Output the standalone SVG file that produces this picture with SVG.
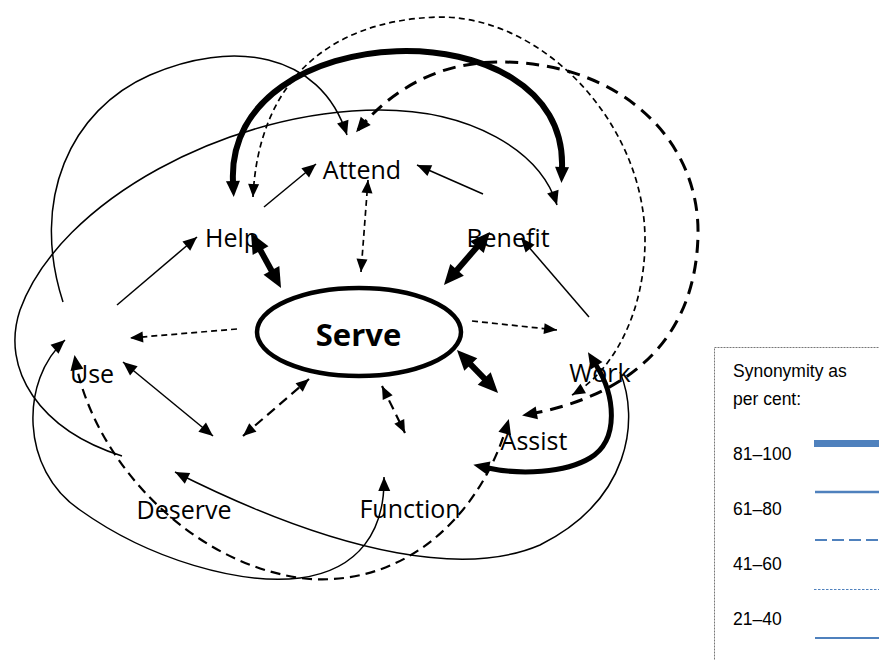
<svg xmlns="http://www.w3.org/2000/svg" width="879" height="660" viewBox="0 0 879 660">
<style>
.lbl{font-family:"Open Sans","Liberation Sans",sans-serif;font-size:25px;fill:#000;text-anchor:middle}
.srv{font-family:"Open Sans","Liberation Sans",sans-serif;font-size:31px;font-weight:700;fill:#000;text-anchor:middle}
.leg{font-family:"Liberation Sans",Arial,sans-serif;font-size:17.5px;fill:#000}
.c{fill:none;stroke:#000}
.thin{stroke-width:1.5}
.thick{stroke-width:6}
.dash{stroke-width:3;stroke-dasharray:13 8}
.mdash{stroke-width:2.2;stroke-dasharray:10 6}
.fdash{stroke-width:1.7;stroke-dasharray:6 4}
.lb{stroke:#4F81BD;fill:none}
</style>
<defs>
<marker id="at" markerUnits="userSpaceOnUse" markerWidth="14" markerHeight="12" refX="14" refY="6" orient="auto-start-reverse" overflow="visible"><path d="M0,0 L14,6 L0,12 z" fill="#000"/></marker>
<marker id="ak" markerUnits="userSpaceOnUse" markerWidth="20" markerHeight="18" refX="1" refY="9" orient="auto-start-reverse" overflow="visible"><path d="M0,0 L20,9 L0,18 z" fill="#000"/></marker>
<marker id="am" markerUnits="userSpaceOnUse" markerWidth="16" markerHeight="14" refX="1" refY="7" orient="auto-start-reverse" overflow="visible"><path d="M0,0 L16,7 L0,14 z" fill="#000"/></marker>
<marker id="ad" markerUnits="userSpaceOnUse" markerWidth="15" markerHeight="13" refX="12" refY="6.5" orient="auto-start-reverse" overflow="visible"><path d="M0,0 L15,6.5 L0,13 z" fill="#000"/></marker>
<marker id="af" markerUnits="userSpaceOnUse" markerWidth="13" markerHeight="11" refX="13" refY="5.5" orient="auto-start-reverse" overflow="visible"><path d="M0,0 L13,5.5 L0,11 z" fill="#000"/></marker>
</defs>
<rect width="879" height="660" fill="#fff"/>
<g id="connectors">
<path class="c thick" d="M260.1,249.7 L271.9,271.3" marker-start="url(#ak)" marker-end="url(#ak)"/>
<path class="c thick" d="M477.6,246.3 L456.4,270.7" marker-start="url(#ak)" marker-end="url(#ak)"/>
<path class="c thick" d="M470.1,363.8 L484.9,379.2" marker-start="url(#ak)" marker-end="url(#ak)"/>
<path class="c thick" d="M233,182 C225,15 568,5 562,168" marker-start="url(#am)" marker-end="url(#am)"/>
<path class="c" stroke-width="5" d="M596,365 C615,395 620,440 590,458 C565,473 520,475 488,468" marker-start="url(#am)" marker-end="url(#am)"/>
<path class="c thin" d="M123,362 L213,436" marker-start="url(#at)" marker-end="url(#at)"/>
<path class="c thin" d="M117,305 L197,237" marker-end="url(#at)"/>
<path class="c thin" d="M264,207 L316,164" marker-end="url(#at)"/>
<path class="c thin" d="M483,194 L417,165" marker-end="url(#at)"/>
<path class="c thin" d="M589,317 L521,238" marker-end="url(#at)"/>
<path class="c fdash" d="M368,180 L361,272" marker-start="url(#af)" marker-end="url(#af)"/>
<path class="c fdash" d="M237,329 L130,338" marker-end="url(#af)"/>
<path class="c fdash" d="M472,321 L557,330" marker-end="url(#af)"/>
<path class="c mdash" stroke-dasharray="7 5" d="M243,436 L309,379" marker-start="url(#af)" marker-end="url(#af)"/>
<path class="c mdash" stroke-dasharray="7 5" d="M382,386 L405,433" marker-start="url(#af)" marker-end="url(#af)"/>
<path class="c fdash" d="M253,197 C258,90 320,20 440,17 C545,17 645,125 645,240 C645,310 615,370 572,395" marker-start="url(#af)" marker-end="url(#af)"/>
<path class="c dash" d="M358,130 C400,80 450,62 500,62 C620,62 700,140 698,235 C696,330 640,395 525,415" marker-start="url(#ad)" marker-end="url(#ad)"/>
<path class="c thin" d="M63,302 C30,200 70,110 150,75 C230,40 320,50 347,135" marker-end="url(#at)"/>
<path class="c thin" d="M122,456 C40,430 0,370 20,310 C60,200 230,110 380,110 C470,110 540,150 557,205" marker-end="url(#at)"/>
<path class="c thin" d="M65,340 C20,380 20,470 80,510 C150,560 240,585 300,578 C360,570 385,530 384,477" marker-start="url(#at)" marker-end="url(#at)"/>
<path class="c mdash" d="M75,358 C90,450 180,560 300,578 C400,590 480,520 508,422" marker-start="url(#ad)" marker-end="url(#ad)"/>
<path class="c thin" d="M620,372 C640,420 630,500 540,545 C470,575 350,560 175,472" marker-end="url(#at)"/>
</g>
<g id="serve"><ellipse cx="359" cy="332" rx="102" ry="44" fill="none" stroke="#000" stroke-width="4.5"/><text class="srv" x="358.5" y="346">Serve</text></g>
<g id="attend"><text class="lbl" x="362" y="179">Attend</text></g>
<g id="help"><text class="lbl" x="232" y="247">Help</text></g>
<g id="benefit"><text class="lbl" x="508" y="247">Benefit</text></g>
<g id="use"><text class="lbl" x="92" y="383">Use</text></g>
<g id="work"><text class="lbl" x="600" y="382">Work</text></g>
<g id="assist"><text class="lbl" x="534" y="450">Assist</text></g>
<g id="deserve"><text class="lbl" x="184" y="519">Deserve</text></g>
<g id="function"><text class="lbl" x="410" y="518">Function</text></g>
<g id="legend">
<rect x="714.5" y="347.5" width="200" height="400" fill="none" stroke="#777" stroke-width="1" stroke-dasharray="2 1"/>
<text class="leg" x="733" y="377">Synonymity as</text>
<text class="leg" x="733" y="405">per cent:</text>
<text class="leg" x="733" y="460">81–100</text>
<text class="leg" x="733" y="515">61–80</text>
<text class="leg" x="733" y="570">41–60</text>
<text class="leg" x="733" y="625">21–40</text>
<line class="lb" x1="814" y1="443.5" x2="879" y2="443.5" stroke-width="7"/>
<line class="lb" x1="815" y1="492" x2="879" y2="492" stroke-width="2.5"/>
<line class="lb" x1="815" y1="540" x2="879" y2="540" stroke-width="2.2" stroke-dasharray="12 5"/>
<line class="lb" x1="814" y1="589.5" x2="879" y2="589.5" stroke-width="1" stroke-dasharray="2.5 1.5"/>
<line class="lb" x1="815" y1="638" x2="879" y2="638" stroke-width="2"/>
</g>
</svg>
